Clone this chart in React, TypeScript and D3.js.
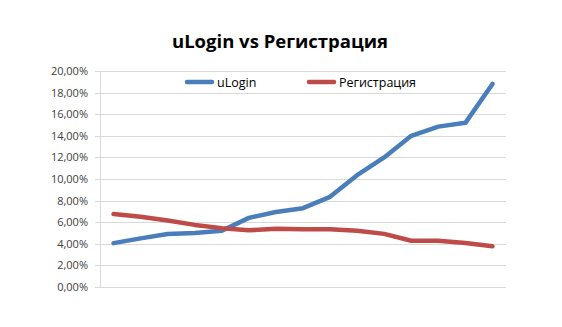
import React from "react";
import * as d3 from "d3";

const categories = d3.range(1, 16).map(String);
const uLogin = [4.06, 4.5, 4.9, 5.0, 5.2, 6.4, 6.95, 7.3, 8.35, 10.35, 12.0, 14.0, 14.85, 15.2, 18.8];
const registration = [6.75, 6.5, 6.15, 5.75, 5.45, 5.25, 5.4, 5.35, 5.35, 5.2, 4.92, 4.28, 4.28, 4.08, 3.78];
const yTicks = [0, 2, 4, 6, 8, 10, 12, 14, 16, 18, 20];
const seriesNames = ["uLogin", "Регистрация"];
const colors = ["#4A7EBB", "#BE4B48"];

export default function App() {
  const W = 562, H = 327;
  const left = 100, right = 506, top = 71, bottom = 287;
  const x = d3.scaleBand<string>().domain(categories).range([left, right]);
  const y = d3.scaleLinear().domain([0, 20]).range([bottom, top]);
  const line = d3
    .line<number>()
    .x((_, i) => (x(categories[i]) as number) + x.bandwidth() / 2)
    .y((d) => y(d));
  const fmt = (v: number) => v.toFixed(2).replace(".", ",") + "%";
  const font = "'Open Sans', 'Liberation Sans', sans-serif";
  return (
    <svg width={W} height={H} style={{ position: "absolute", left: 0, top: 0 }}>
      <rect width={W} height={H} fill="#fff" />
      <text x={280} y={48} textAnchor="middle" fontFamily={font} fontWeight="bold" fontSize={18.5} fill="#000">
        uLogin vs Регистрация
      </text>
      {yTicks.map((t) => (
        <g key={t}>
          <line x1={left - 5} x2={right} y1={Math.round(y(t)) + 0.5} y2={Math.round(y(t)) + 0.5} stroke="#D9D9D9" />
          <text x={88} y={y(t) + 4} textAnchor="end" fontFamily={font} fontSize={11} fill="#404040">
            {fmt(t)}
          </text>
        </g>
      ))}
      <line x1={left + 0.5} x2={left + 0.5} y1={top} y2={bottom} stroke="#D9D9D9" />
      {[uLogin, registration].map((s, i) => (
        <path key={i} d={line(s) as string} fill="none" stroke={colors[i]} strokeWidth={4.5} strokeLinecap="round" strokeLinejoin="round" />
      ))}
      {seriesNames.map((n, i) => {
        const lx = i === 0 ? 187 : 309;
        return (
          <g key={n}>
            <line x1={lx} x2={lx + 25} y1={82} y2={82} stroke={colors[i]} strokeWidth={4.5} strokeLinecap="round" />
            <text x={lx + 30} y={86.5} fontFamily={font} fontSize={12.5} fill="#000">
              {n}
            </text>
          </g>
        );
      })}
    </svg>
  );
}
